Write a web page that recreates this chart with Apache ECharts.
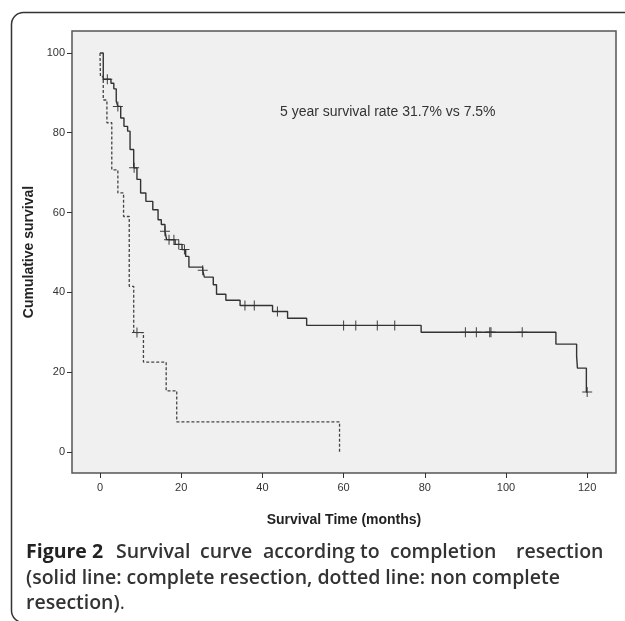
<!DOCTYPE html>
<html>
<head>
<meta charset="utf-8">
<script src="https://cdn.jsdelivr.net/npm/echarts@6/dist/echarts.min.js"></script>
<style>
  html, body { margin: 0; padding: 0; background: #fff; }
  #main { width: 625px; height: 621px; }
</style>
</head>
<body>
<div id="main"></div>
<script>
// complete resection: step times (months) and survival (%)
var solidTime = [0, 0.8, 2.7, 3.4, 4.0, 4.4, 5.1, 5.9, 6.8, 7.4, 8.3, 9.1, 10.0, 11.3, 13.0, 14.3, 15.1, 16.0, 16.4, 18.5, 20.2, 21.1, 21.9, 25.3, 25.7, 27.9, 28.7, 31.0, 34.5, 42.5, 46.2, 50.9, 79.1, 112.3, 117.4, 117.6, 119.8, 120];
var solidSurv = [100, 93.4, 92.4, 91.0, 87.9, 86.6, 83.7, 81.6, 80.4, 75.8, 71.2, 68.3, 64.9, 62.8, 60.7, 58.2, 57.0, 55.3, 53.2, 52.0, 50.7, 49.0, 46.3, 45.5, 43.8, 41.9, 39.5, 38.0, 36.7, 35.2, 33.5, 31.7, 30.0, 27.0, 24.0, 21.0, 15.0, 15.0];
var solidCensor = [1.8, 4.4, 8.4, 16.0, 17.0, 18.2, 19.4, 20.8, 25.3, 35.7, 38.0, 43.7, 60.0, 63.0, 68.3, 72.6, 90.0, 92.7, 96.0, 96.3, 104.0, 120];

// non complete resection
var dotTime = [0, 0.1, 0.8, 1.7, 2.9, 4.4, 5.8, 7.2, 8.3, 10.7, 16.3, 18.9, 59.0, 59.0];
var dotSurv = [100, 94.1, 88.2, 82.5, 70.7, 64.9, 59.0, 41.5, 29.9, 22.5, 15.3, 7.5, 7.5, 0];
var dotCensor = [9.1];

var xTicks = [0, 20, 40, 60, 80, 100, 120];
var yTicks = [0, 20, 40, 60, 80, 100];

function pairs(t, s) { return t.map(function (v, i) { return [v, s[i]]; }); }
function survAt(t, s, x) {
  var v = s[0];
  for (var i = 0; i < t.length; i++) { if (t[i] <= x) v = s[i]; }
  return v;
}
function censorPts(c, t, s) { return c.map(function (x) { return [x, survAt(t, s, x)]; }); }

var plus = 'path://M-0.1,-1H0.1V1H-0.1ZM-1,-0.1H1V0.1H-1Z';
var capFont = '600 19.5px "Open Sans"';
// caption first line is justified: word and its left edge
var capWords = [['Survival', 116], ['curve', 200], ['according', 263], ['to', 360], ['completion', 390], ['resection', 516]];

var graphics = [
  { type: 'rect', left: 9, top: 10, shape: { width: 630, height: 610, r: 12 }, silent: true,
    style: { fill: 'none', stroke: '#333', lineWidth: 1.5 } },
  { type: 'text', left: 280, top: 105, style: { text: '5 year survival rate 31.7% vs 7.5%',
    font: '14px "Liberation Sans"', fill: '#333' } },
  { type: 'text', left: 26, top: 542, style: { text: 'Figure 2', font: 'bold 19.5px "Open Sans"', fill: '#222' } },
  { type: 'text', left: 26, top: 568, style: {
    text: '(solid line: complete resection, dotted line: non complete', font: capFont, fill: '#333' } },
  { type: 'text', left: 26, top: 593, style: {
    text: '{b|resection)}{c|.}',
    rich: { b: { font: capFont, fill: '#333' }, c: { font: '19.5px "Open Sans"', fill: '#333' } } } }
];
capWords.forEach(function (w) {
  graphics.push({ type: 'text', left: w[1], top: 542, style: { text: w[0], font: capFont, fill: '#333' } });
});

var chart = echarts.init(document.getElementById('main'));
chart.setOption({
  backgroundColor: '#fff',
  animation: false,
  grid: { left: 72, right: 9, top: 31, bottom: 148, backgroundColor: '#f0f0f0', show: true, borderColor: '#555', borderWidth: 1.5 },
  xAxis: {
    type: 'value', min: -6.9, max: 127.1,
    name: 'Survival Time (months)', nameLocation: 'middle', nameGap: 40,
    nameTextStyle: { fontFamily: 'Liberation Sans', fontWeight: 'bold', fontSize: 14, color: '#222' },
    axisLine: { show: false, onZero: false }, splitLine: { show: false },
    axisTick: { show: true, length: 5, lineStyle: { color: '#333' }, customValues: xTicks },
    axisLabel: { color: '#333', fontFamily: 'Liberation Sans', fontSize: 11, customValues: xTicks, margin: 9 }
  },
  yAxis: {
    type: 'value', min: -5.3, max: 105.5,
    name: 'Cumulative survival', nameLocation: 'middle', nameGap: 36,
    nameTextStyle: { fontFamily: 'Liberation Sans', fontWeight: 'bold', fontSize: 14, color: '#222' },
    axisLine: { show: false, onZero: false }, splitLine: { show: false },
    axisTick: { show: true, length: 5, lineStyle: { color: '#333' }, customValues: yTicks },
    axisLabel: { color: '#333', fontFamily: 'Liberation Sans', fontSize: 11, customValues: yTicks, margin: 7 }
  },
  series: [
    { type: 'line', step: 'end', data: pairs(solidTime, solidSurv), symbol: 'none',
      lineStyle: { color: '#333', width: 1.4 } },
    { type: 'line', step: 'end', data: pairs(dotTime, dotSurv), symbol: 'none',
      lineStyle: { color: '#444', width: 1.3, type: [3, 2] } },
    { type: 'scatter', data: censorPts(solidCensor, solidTime, solidSurv), symbol: plus, symbolSize: 10,
      itemStyle: { color: '#111' } },
    { type: 'scatter', data: censorPts(dotCensor, dotTime, dotSurv), symbol: plus, symbolSize: 10,
      itemStyle: { color: '#111' } }
  ],
  graphic: graphics
});
</script>
</body>
</html>
